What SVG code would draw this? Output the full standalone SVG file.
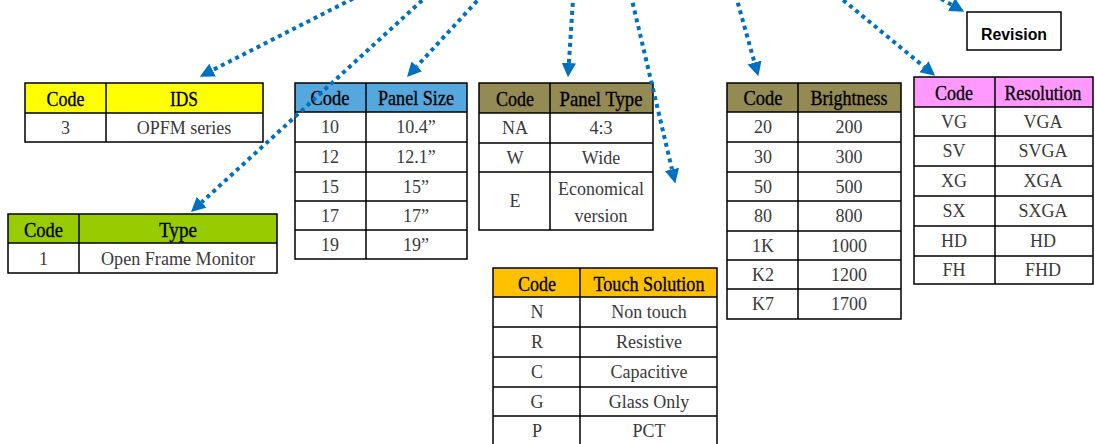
<svg xmlns="http://www.w3.org/2000/svg" width="1095" height="444" viewBox="0 0 1095 444">
<style>
  .hdr { font-family: "Liberation Serif", "Times New Roman", serif; font-size: 22px; fill: #000; stroke: #000; stroke-width: 0.35; text-anchor: middle; }
  .cell { font-family: "Liberation Serif", "Times New Roman", serif; font-size: 18px; fill: #3a3a3a; text-anchor: middle; }
  .grid { fill: none; stroke: #000; stroke-width: 1.5; }
  .conn { fill: none; stroke: #0070C0; stroke-width: 4; stroke-dasharray: 4 4; marker-end: url(#ah); }
  .rev { font-family: "Liberation Sans", Arial, sans-serif; font-size: 16px; font-weight: bold; fill: #000; text-anchor: middle; }
</style>
<defs>
  <marker id="ah" viewBox="0 0 10 10" refX="0" refY="5" markerWidth="3.6" markerHeight="3.8" orient="auto" markerUnits="strokeWidth">
    <path d="M0,0 L10,5 L0,10 Z" fill="#0070C0"/>
  </marker>
</defs>
<rect width="1095" height="444" fill="#fff"/>

<g id="ids">
  <rect x="25" y="83" width="238" height="30" fill="#FFFF00"/>
  <path class="grid" d="M25,83 H263 V142 H25 Z M25,113 H263 M106,83 V142"/>
  <text class="hdr" x="65.5" y="105.5" textLength="38" lengthAdjust="spacingAndGlyphs">Code</text>
  <text class="hdr" x="184" y="105.5" textLength="28" lengthAdjust="spacingAndGlyphs">IDS</text>
  <text class="cell" x="65.5" y="134">3</text>
  <text class="cell" x="184" y="134">OPFM series</text>
</g>

<g id="type">
  <rect x="8" y="214" width="269" height="29" fill="#99CC00"/>
  <path class="grid" d="M8,214 H277 V273 H8 Z M8,243 H277 M79,214 V273"/>
  <text class="hdr" x="43.5" y="236.5" textLength="39" lengthAdjust="spacingAndGlyphs">Code</text>
  <text class="hdr" x="178" y="236.5" textLength="38" lengthAdjust="spacingAndGlyphs">Type</text>
  <text class="cell" x="43.5" y="265">1</text>
  <text class="cell" x="178" y="265" textLength="154" lengthAdjust="spacingAndGlyphs">Open Frame Monitor</text>
</g>

<g id="panel-size">
  <rect x="295" y="83" width="172" height="29" fill="#55A8DD"/>
  <path class="grid" d="M295,83 H467 V259 H295 Z M295,112 H467 M295,142 H467 M295,172 H467 M295,201 H467 M295,230 H467 M366,83 V259"/>
  <text class="hdr" x="330" y="105" textLength="39" lengthAdjust="spacingAndGlyphs">Code</text>
  <text class="hdr" x="416" y="105" textLength="76" lengthAdjust="spacingAndGlyphs">Panel Size</text>
  <text class="cell" x="330" y="133">10</text><text class="cell" x="416" y="133">10.4”</text>
  <text class="cell" x="330" y="163">12</text><text class="cell" x="416" y="163">12.1”</text>
  <text class="cell" x="330" y="193">15</text><text class="cell" x="416" y="193">15”</text>
  <text class="cell" x="330" y="222">17</text><text class="cell" x="416" y="222">17”</text>
  <text class="cell" x="330" y="251">19</text><text class="cell" x="416" y="251">19”</text>
</g>

<g id="panel-type">
  <rect x="479" y="83" width="174" height="30" fill="#948A54"/>
  <path class="grid" d="M479,83 H653 V230 H479 Z M479,113 H653 M479,143 H653 M479,172 H653 M550,83 V230"/>
  <text class="hdr" x="515" y="106" textLength="38" lengthAdjust="spacingAndGlyphs">Code</text>
  <text class="hdr" x="601" y="106" textLength="83" lengthAdjust="spacingAndGlyphs">Panel Type</text>
  <text class="cell" x="515" y="134">NA</text><text class="cell" x="601" y="134">4:3</text>
  <text class="cell" x="515" y="164">W</text><text class="cell" x="601" y="164">Wide</text>
  <text class="cell" x="515" y="207">E</text>
  <text class="cell" x="601" y="195">Economical</text>
  <text class="cell" x="601" y="222">version</text>
</g>

<g id="touch-solution">
  <rect x="493" y="268" width="224" height="29" fill="#FFC000"/>
  <path class="grid" d="M493,268 H717 V446 H493 Z M493,297 H717 M493,327 H717 M493,357 H717 M493,387 H717 M493,416 H717 M580,268 V446"/>
  <text class="hdr" x="537" y="291" textLength="38" lengthAdjust="spacingAndGlyphs">Code</text>
  <text class="hdr" x="649" y="291" textLength="111" lengthAdjust="spacingAndGlyphs">Touch Solution</text>
  <text class="cell" x="537" y="318">N</text><text class="cell" x="649" y="318">Non touch</text>
  <text class="cell" x="537" y="348">R</text><text class="cell" x="649" y="348">Resistive</text>
  <text class="cell" x="537" y="378">C</text><text class="cell" x="649" y="378">Capacitive</text>
  <text class="cell" x="537" y="408">G</text><text class="cell" x="649" y="408">Glass Only</text>
  <text class="cell" x="537" y="437">P</text><text class="cell" x="649" y="437">PCT</text>
</g>

<g id="brightness">
  <rect x="727" y="83" width="174" height="29" fill="#948A54"/>
  <path class="grid" d="M727,83 H901 V319 H727 Z M727,112 H901 M727,142 H901 M727,172 H901 M727,201 H901 M727,231 H901 M727,260 H901 M727,289 H901 M798,83 V319"/>
  <text class="hdr" x="763" y="105" textLength="39" lengthAdjust="spacingAndGlyphs">Code</text>
  <text class="hdr" x="849" y="105" textLength="77" lengthAdjust="spacingAndGlyphs">Brightness</text>
  <text class="cell" x="763" y="133">20</text><text class="cell" x="849" y="133">200</text>
  <text class="cell" x="763" y="163">30</text><text class="cell" x="849" y="163">300</text>
  <text class="cell" x="763" y="193">50</text><text class="cell" x="849" y="193">500</text>
  <text class="cell" x="763" y="222">80</text><text class="cell" x="849" y="222">800</text>
  <text class="cell" x="763" y="252">1K</text><text class="cell" x="849" y="252">1000</text>
  <text class="cell" x="763" y="281">K2</text><text class="cell" x="849" y="281">1200</text>
  <text class="cell" x="763" y="310">K7</text><text class="cell" x="849" y="310">1700</text>
</g>

<g id="resolution">
  <rect x="914" y="77" width="179" height="30" fill="#FF99FF"/>
  <path class="grid" d="M914,77 H1093 V284 H914 Z M914,107 H1093 M914,136 H1093 M914,166 H1093 M914,196 H1093 M914,226 H1093 M914,256 H1093 M995,77 V284"/>
  <text class="hdr" x="954" y="99.5" textLength="38" lengthAdjust="spacingAndGlyphs">Code</text>
  <text class="hdr" x="1043" y="99.5" style="font-size:20.5px" textLength="77" lengthAdjust="spacingAndGlyphs">Resolution</text>
  <text class="cell" x="954" y="128">VG</text><text class="cell" x="1043" y="128">VGA</text>
  <text class="cell" x="954" y="157">SV</text><text class="cell" x="1043" y="157">SVGA</text>
  <text class="cell" x="954" y="187">XG</text><text class="cell" x="1043" y="187">XGA</text>
  <text class="cell" x="954" y="217">SX</text><text class="cell" x="1043" y="217">SXGA</text>
  <text class="cell" x="954" y="247">HD</text><text class="cell" x="1043" y="247">HD</text>
  <text class="cell" x="954" y="276">FH</text><text class="cell" x="1043" y="276">FHD</text>
</g>

<g id="revision">
  <rect x="967" y="12" width="94" height="38" fill="#fff" stroke="#000" stroke-width="1.5"/>
  <text class="rev" x="1014" y="40" textLength="66" lengthAdjust="spacingAndGlyphs">Revision</text>
</g>

<g id="connectors">
  <path class="conn" d="M360,-5 L212.6,70.1"/>
  <path class="conn" d="M428,-5 L201.6,202.3"/>
  <path class="conn" d="M482.5,-5 L416.8,66.4"/>
  <path class="conn" d="M573.3,-5 L568.9,63"/>
  <path class="conn" d="M630.8,-5 L672,169.4"/>
  <path class="conn" d="M735.6,-5 L754.5,62.5"/>
  <path class="conn" d="M837,-5 L924,66.7"/>
  <path class="conn" d="M934,-5 L951.6,4.7"/>
</g>
</svg>
